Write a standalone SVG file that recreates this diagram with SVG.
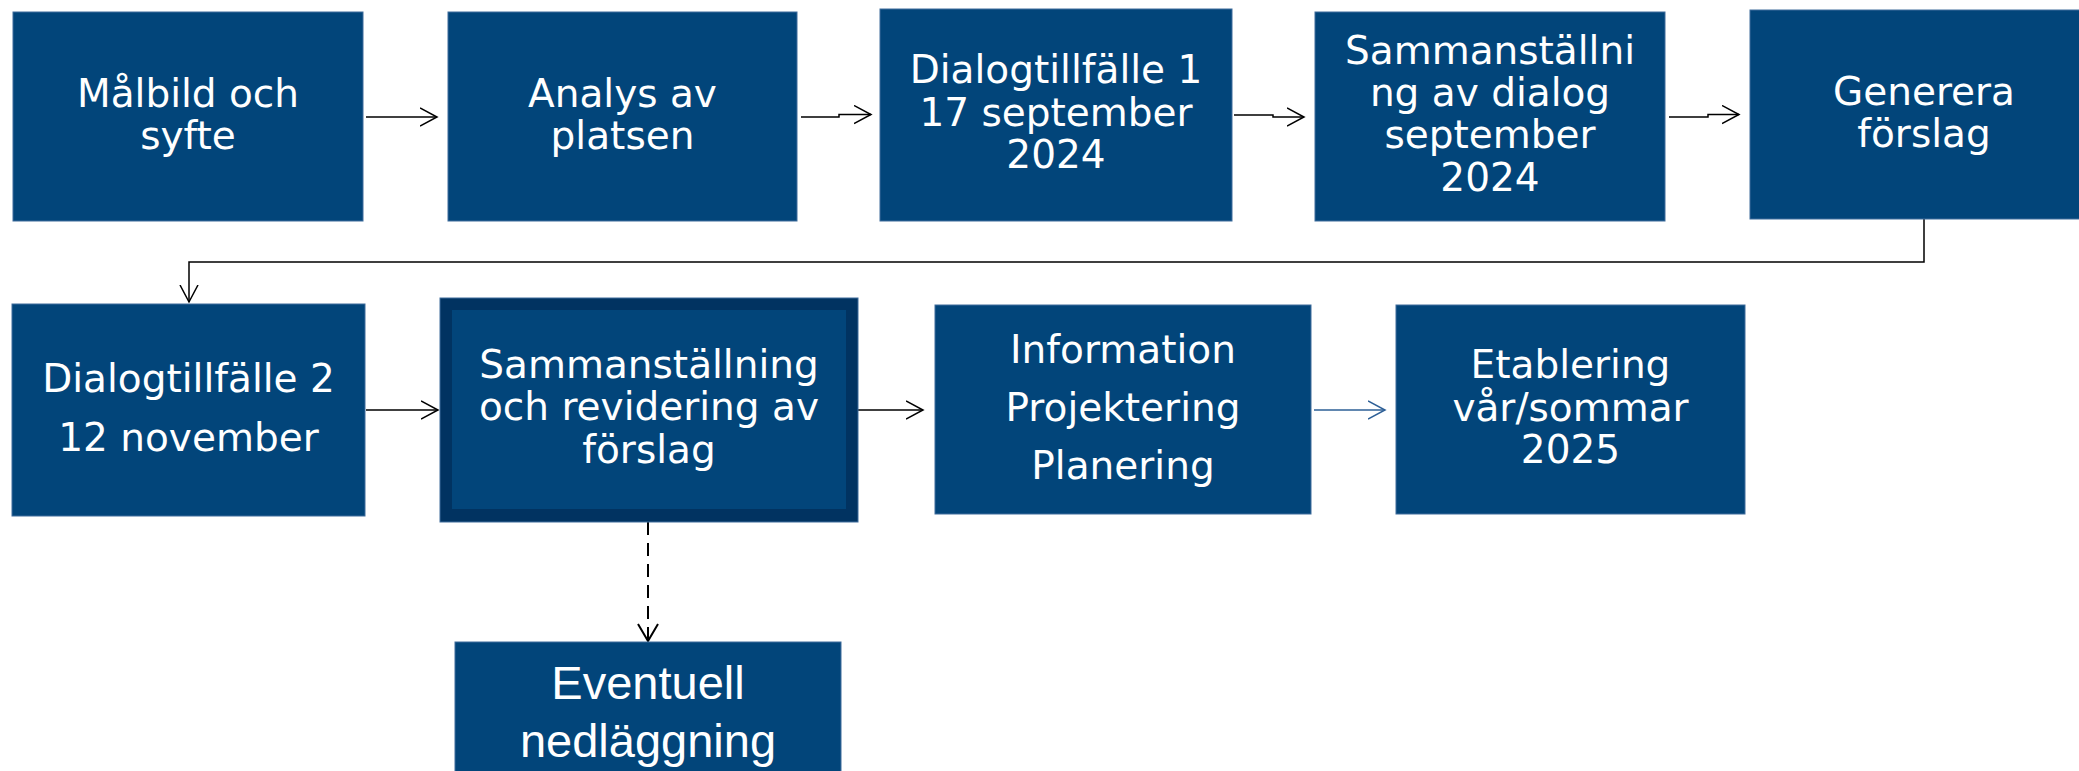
<svg xmlns="http://www.w3.org/2000/svg" width="2079" height="771" viewBox="0 0 2079 771">
<style>
.box{fill:#02457A;stroke:#3f6c9c;stroke-width:1}
.t{font-family:"DejaVu Sans",sans-serif;font-size:39px;fill:#ffffff;text-anchor:middle}
.ta{font-family:"Liberation Sans",Arial,sans-serif;font-size:47px;fill:#ffffff;text-anchor:middle}
.c{fill:none;stroke:#000000;stroke-width:1.5}
</style>
<defs>
<marker id="ah" markerUnits="userSpaceOnUse" markerWidth="20" markerHeight="22" refX="17" refY="10" orient="auto">
<path d="M0,1 L17,10 L0,19" fill="none" stroke="#000000" stroke-width="1.5"/>
</marker>
<marker id="ahb" markerUnits="userSpaceOnUse" markerWidth="20" markerHeight="22" refX="17" refY="10" orient="auto">
<path d="M0,1 L17,10 L0,19" fill="none" stroke="#2d5f96" stroke-width="1.5"/>
</marker>
</defs>
<rect width="2079" height="771" fill="#ffffff"/>
<g id="connectors">
<path class="c" d="M366,117 L437,117" marker-end="url(#ah)"/>
<path class="c" d="M801,117 L839,117 L839,114.5 L871,114.5" marker-end="url(#ah)"/>
<path class="c" d="M1234,115 L1273,115 L1273,117 L1304,117" marker-end="url(#ah)"/>
<path class="c" d="M1669,117 L1708,117 L1708,114.5 L1739,114.5" marker-end="url(#ah)"/>
<path class="c" d="M1924,219 L1924,262 L189,262 L189,302" marker-end="url(#ah)"/>
<path class="c" d="M366,410 L438,410" marker-end="url(#ah)"/>
<path class="c" d="M858,410 L923,410" marker-end="url(#ah)"/>
<path fill="none" stroke="#2d5f96" stroke-width="1.5" d="M1314,410 L1385,410" marker-end="url(#ahb)"/>
<path fill="none" stroke="#000000" stroke-width="2" stroke-dasharray="13,8" d="M648,522 L648,640"/>
<path fill="none" stroke="#000000" stroke-width="2" d="M638,624 L648,641 L658,624"/>
</g>
<g id="n1"><rect class="box" x="13" y="12" width="350" height="209"/>
<text class="t" x="188" y="107">Målbild och</text><text class="t" x="188" y="149">syfte</text></g>
<g id="n2"><rect class="box" x="448" y="12" width="349" height="209"/>
<text class="t" x="622.5" y="107">Analys av</text><text class="t" x="622.5" y="149">platsen</text></g>
<g id="n3"><rect class="box" x="880" y="9" width="352" height="212"/>
<text class="t" x="1056" y="83">Dialogtillfälle 1</text><text class="t" x="1056" y="126">17 september</text><text class="t" x="1056" y="168">2024</text></g>
<g id="n4"><rect class="box" x="1315" y="12" width="350" height="209"/>
<text class="t" x="1490" y="64">Sammanställni</text><text class="t" x="1490" y="106">ng av dialog</text><text class="t" x="1490" y="148">september</text><text class="t" x="1490" y="191">2024</text></g>
<g id="n5"><rect class="box" x="1750" y="10" width="350" height="209"/>
<text class="t" x="1924" y="105">Generera</text><text class="t" x="1924" y="147">förslag</text></g>
<g id="n6"><rect class="box" x="12" y="304" width="353" height="212"/>
<text class="t" x="188.5" y="392">Dialogtillfälle 2</text><text class="t" x="188.5" y="451">12 november</text></g>
<g id="n7"><rect x="440" y="298" width="418" height="224" fill="#013361" stroke="#3f6c9c" stroke-width="1"/>
<rect x="452" y="310" width="394" height="199" fill="#02457A"/>
<text class="t" x="649" y="378">Sammanställning</text><text class="t" x="649" y="420">och revidering av</text><text class="t" x="649" y="463">förslag</text></g>
<g id="n8"><rect class="box" x="935" y="305" width="376" height="209"/>
<text class="t" x="1123" y="363">Information</text><text class="t" x="1123" y="421">Projektering</text><text class="t" x="1123" y="479">Planering</text></g>
<g id="n9"><rect class="box" x="1396" y="305" width="349" height="209"/>
<text class="t" x="1570.5" y="378">Etablering</text><text class="t" x="1570.5" y="421">vår/sommar</text><text class="t" x="1570.5" y="463">2025</text></g>
<g id="n10"><rect class="box" x="455" y="642" width="386" height="150"/>
<text class="ta" x="648" y="699">Eventuell</text><text class="ta" x="648" y="757">nedläggning</text></g>
</svg>
